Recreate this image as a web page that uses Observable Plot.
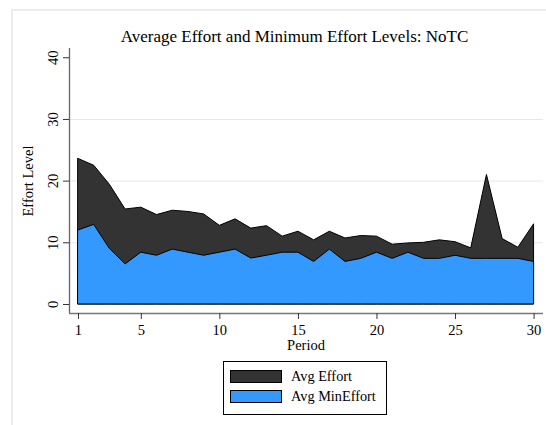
<!DOCTYPE html>
<html>
<head>
<meta charset="utf-8">
<script src="https://cdn.jsdelivr.net/npm/d3@7"></script>
<script src="https://cdn.jsdelivr.net/npm/@observablehq/plot@0.6"></script>
<style>
  html, body { margin: 0; padding: 0; background: #fff; }
  #wrap { position: relative; width: 546px; height: 425px; overflow: hidden; font-family: "Liberation Serif", "Times New Roman", serif; color: #000; }
  #border { position: absolute; left: 11px; top: 9px; width: 600px; height: 500px; border-left: 2px solid #ececec; border-top: 2px solid #ececec; }
  #chart { position: absolute; left: 0; top: 0; }
  .lbl { position: absolute; white-space: nowrap; }
  #title { left: 0; width: 589px; top: 28px; text-align: center; font-size: 17px; line-height: 1; }
  #ylab { left: 28px; top: 181px; font-size: 14.5px; transform: translate(-50%, -50%) rotate(-90deg); line-height: 1; }
  #xlab { left: 306px; top: 345px; font-size: 14.5px; transform: translate(-50%, -50%); line-height: 1; }
  #legend { position: absolute; left: 223px; top: 361px; width: 164px; height: 54px; border: 1px solid #000; box-sizing: border-box; }
  .row { position: absolute; left: 6px; height: 14px; display: flex; align-items: center; font-size: 14.3px; }
  .sw { width: 52px; height: 13px; border: 1px solid #000; box-sizing: border-box; margin-right: 9px; }
</style>
</head>
<body>
<div id="wrap">
  <div id="border"></div>
  <div id="chart"></div>
  <div class="lbl" id="title"></div>
  <div class="lbl" id="ylab"></div>
  <div class="lbl" id="xlab"></div>
  <div id="legend"></div>
</div>
<script>
const title = "Average Effort and Minimum Effort Levels: NoTC";
const yLabel = "Effort Level";
const xLabel = "Period";
const seriesNames = ["Avg Effort", "Avg MinEffort"];
const seriesColors = ["#333333", "#3399ff"];

const periods = d3.range(1, 31);
const avgEffort = [23.6, 22.5, 19.4, 15.4, 15.7, 14.5, 15.2, 15.0, 14.6, 12.75,
                   13.8, 12.3, 12.7, 11.0, 11.8, 10.4, 11.8, 10.7, 11.1, 11.0,
                   9.7, 9.9, 10.0, 10.4, 10.1, 9.1, 21.0, 10.6, 9.2, 13.0];
const avgMinEffort = [12.0, 12.9, 9.0, 6.5, 8.4, 7.9, 8.9, 8.4, 7.9, 8.4,
                      8.9, 7.45, 7.9, 8.4, 8.4, 6.9, 8.9, 6.9, 7.4, 8.4,
                      7.4, 8.4, 7.4, 7.4, 7.9, 7.4, 7.4, 7.4, 7.4, 6.9];
const xTicks = [1, 5, 10, 15, 20, 25, 30];
const yTicks = [0, 10, 20, 30, 40];
const gridTicks = [10, 20, 30];

const data = periods.map((p, i) => ({period: p, effort: avgEffort[i], minEffort: avgMinEffort[i]}));

const xDomain = [0.43, 30.6];
const yDomain = [-1.46, 41.5];
const font = "Liberation Serif, Times New Roman, serif";

const chart = Plot.plot({
  width: 546,
  height: 425,
  marginLeft: 69,
  marginRight: 3,
  marginTop: 48,
  marginBottom: 112,
  style: {background: "transparent", fontFamily: font, fontSize: "14.5px", color: "#000"},
  x: {domain: xDomain},
  y: {domain: yDomain},
  marks: [
    Plot.ruleY(gridTicks, {stroke: "#e6e6e6", strokeWidth: 1}),
    Plot.areaY(data, {x: "period", y: "effort", fill: seriesColors[0], stroke: "#000", strokeWidth: 1}),
    Plot.areaY(data, {x: "period", y: "minEffort", fill: seriesColors[1], stroke: "#000", strokeWidth: 1}),
    Plot.ruleX([xDomain[0]], {y1: yDomain[0], y2: yDomain[1], stroke: "#666", strokeWidth: 1.3}),
    Plot.ruleY([yDomain[0]], {x1: xDomain[0], x2: xDomain[1], stroke: "#777", strokeWidth: 1.3}),
    Plot.axisX({ticks: xTicks, tickSize: 6, tickPadding: 5, label: null, fontSize: 14.5, stroke: "#333"}),
    Plot.axisY({ticks: yTicks, tickSize: 6, tickFormat: () => "", label: null, stroke: "#333"}),
    Plot.text(yTicks, {x: xDomain[0], y: d => d, text: d => String(d), rotate: -90, dx: -16, fontSize: 14.5, fill: "#000"})
  ]
});
document.getElementById("chart").appendChild(chart);

document.getElementById("title").textContent = title;
document.getElementById("ylab").textContent = yLabel;
document.getElementById("xlab").textContent = xLabel;

const legend = document.getElementById("legend");
seriesNames.forEach((name, i) => {
  const row = document.createElement("div");
  row.className = "row";
  row.style.top = (7 + i * 20) + "px";
  const sw = document.createElement("div");
  sw.className = "sw";
  sw.style.background = seriesColors[i];
  const t = document.createElement("span");
  t.textContent = name;
  row.appendChild(sw);
  row.appendChild(t);
  legend.appendChild(row);
});
</script>
</body>
</html>
